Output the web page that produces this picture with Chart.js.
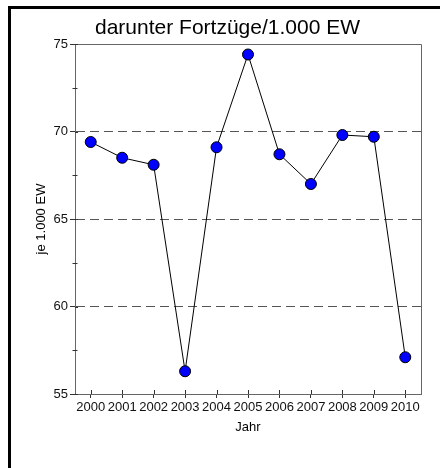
<!DOCTYPE html>
<html>
<head>
<meta charset="utf-8">
<script src="https://cdn.jsdelivr.net/npm/chart.js@4"></script>
<style>
  body { margin: 0; background: #fff; }
  canvas { display: block; }
</style>
</head>
<body>
<canvas id="fortzuegeChart" width="440" height="468"></canvas>
<script>
// Jahre auf der x-Achse
var years = ["2000", "2001", "2002", "2003", "2004", "2005", "2006", "2007", "2008", "2009", "2010"];
// Fortzüge je 1.000 EW
var fortzuege = [69.4, 68.5, 68.1, 56.3, 69.1, 74.4, 68.7, 67.0, 69.8, 69.7, 57.1];
// y-Achse: Haupt- und Zwischenstriche
var yTicks = [55, 60, 65, 70, 75];
var yMinorTicks = [57.5, 62.5, 67.5, 72.5];

var axisColor = "#666";
var textFont = "'Liberation Sans', Arial, sans-serif";

// Draws the black frame, the box around the plot and the small tick marks
var framePlugin = {
    id: "frame",
    beforeDraw: function (chart) {
        var c = chart.ctx;
        c.save();
        c.fillStyle = "#fff";
        c.fillRect(0, 0, chart.width, chart.height);
        c.fillStyle = "#000";
        c.fillRect(8, 6, chart.width - 8, 3);
        c.fillRect(8, 6, 3, chart.height - 6);
        c.restore();
    },
    afterDraw: function (chart) {
        var c = chart.ctx;
        var a = chart.chartArea;
        var x = chart.scales.x;
        var y = chart.scales.y;
        c.save();
        c.setLineDash([]);
        c.strokeStyle = axisColor;
        c.lineWidth = 1;
        c.beginPath();
        c.moveTo(a.left, a.top + 0.5);
        c.lineTo(a.right + 0.5, a.top + 0.5);
        c.lineTo(a.right + 0.5, a.bottom);
        c.moveTo(a.left + 0.5, a.top);
        c.lineTo(a.left + 0.5, a.bottom);
        c.moveTo(a.left, a.bottom + 0.5);
        c.lineTo(a.right, a.bottom + 0.5);
        c.stroke();
        c.strokeStyle = "#333";
        c.beginPath();
        // inner part of the major ticks
        yTicks.forEach(function (v) {
            var py = Math.round(y.getPixelForValue(v)) + 0.5;
            c.moveTo(a.left, py);
            c.lineTo(a.left + 3, py);
        });
        // minor ticks on the y axis
        yMinorTicks.forEach(function (v) {
            var py = Math.round(y.getPixelForValue(v)) + 0.5;
            c.moveTo(a.left - 2.5, py);
            c.lineTo(a.left + 2.5, py);
        });
        // inner part of the year ticks
        years.forEach(function (yr, i) {
            var px = Math.round(x.getPixelForValue(i)) + 0.5;
            c.moveTo(px, a.bottom);
            c.lineTo(px, a.bottom - 4);
        });
        c.stroke();
        c.restore();
    }
};

new Chart(document.getElementById("fortzuegeChart"), {
    type: "line",
    data: {
        labels: years,
        datasets: [{
            label: "Fortzüge je 1.000 EW",
            data: fortzuege,
            borderColor: "#000",
            borderWidth: 1,
            pointRadius: 5.5,
            pointBackgroundColor: "#0000ff",
            pointBorderColor: "#000",
            pointBorderWidth: 1,
            tension: 0
        }]
    },
    plugins: [framePlugin],
    options: {
        responsive: false,
        animation: false,
        layout: { padding: { left: 34, right: 19, top: 0, bottom: 0 } },
        plugins: {
            legend: { display: false },
            tooltip: { enabled: false },
            title: {
                display: true,
                text: "darunter Fortzüge/1.000 EW",
                color: "#000",
                font: { family: textFont, size: 21, weight: "normal", lineHeight: 1.2 },
                padding: { top: 16, bottom: 2.8 }
            }
        },
        scales: {
            x: {
                type: "category",
                offset: true,
                afterFit: function (s) { s.height = 74; },
                grid: {
                    offset: false,
                    drawOnChartArea: false,
                    drawTicks: true,
                    tickLength: 4,
                    tickColor: "#333"
                },
                border: { display: true, color: axisColor, width: 1 },
                ticks: {
                    color: "#111",
                    font: { family: textFont, size: 13 },
                    padding: 2,
                    maxRotation: 0,
                    autoSkip: false
                },
                title: {
                    display: true,
                    text: "Jahr",
                    color: "#000",
                    font: { family: textFont, size: 13 },
                    padding: { top: 0, bottom: 33 }
                }
            },
            y: {
                min: yTicks[0],
                max: yTicks[yTicks.length - 1],
                afterFit: function (s) { s.width = 41; },
                afterBuildTicks: function (s) {
                    s.ticks = yTicks.map(function (v) { return { value: v }; });
                },
                grid: {
                    color: function (ctx) {
                        var v = ctx.tick ? ctx.tick.value : null;
                        return (v === yTicks[0] || v === yTicks[yTicks.length - 1]) ? "rgba(0,0,0,0)" : "#555";
                    },
                    tickColor: "#333",
                    tickLength: 5,
                    tickBorderDash: []
                },
                border: { display: true, color: axisColor, width: 1, dash: [9, 5] },
                ticks: {
                    color: "#111",
                    font: { family: textFont, size: 13 },
                    padding: 2
                },
                title: {
                    display: true,
                    text: "je 1.000 EW",
                    color: "#000",
                    font: { family: textFont, size: 13 },
                    padding: { top: 0, bottom: 0 }
                }
            }
        }
    }
});
</script>
</body>
</html>
